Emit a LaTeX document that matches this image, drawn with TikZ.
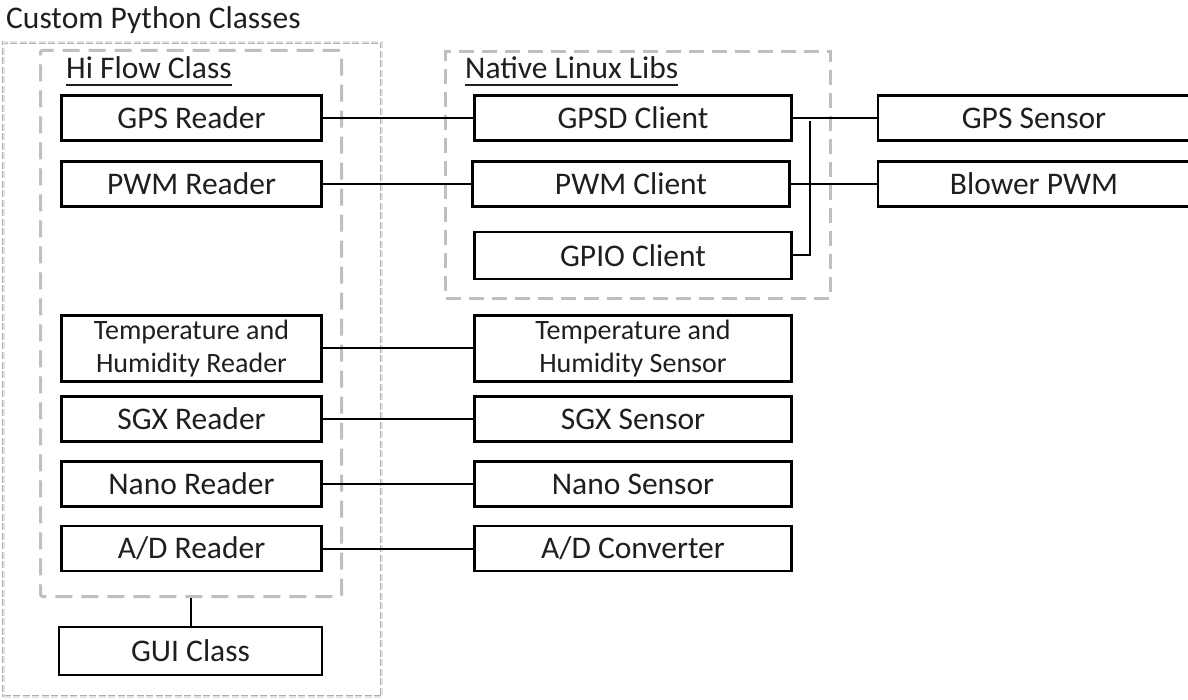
\documentclass[tikz,border=0pt]{standalone}
\usepackage{fontspec}
\setmainfont{Carlito}
\begin{document}
\begin{tikzpicture}[x=1pt,y=-1pt,
  lbl/.style={font=\fontsize{31.5}{38}\selectfont, text=black!88, inner sep=0pt},
  box/.style={lbl, draw=black, line width=2.6pt, fill=white, align=center},
  leftbox/.style={box, minimum width=260pt, minimum height=45pt},
  midbox/.style={box, minimum width=317pt, minimum height=45pt},
  farbox/.style={box, minimum width=312pt, minimum height=45pt},
  twoline/.style={font=\fontsize{28}{32.6}\selectfont, minimum height=66pt},
  wire/.style={draw=black, line width=2pt},
  groupbox/.style={draw=gray!50, line width=3pt, dash pattern=on 17pt off 9pt, rounded corners=2pt, inner sep=0pt},
  libbox/.style={draw=gray!50, line width=2.4pt, dash pattern=on 15pt off 8pt, inner sep=0pt},
  outerbox/.style={draw=gray!65, double=gray!22, line width=0.9pt, double distance=2pt, dash pattern=on 7pt off 2.5pt, inner sep=0pt}
]
\useasboundingbox (0,0) rectangle (1188,700);

% grouping frames
\node[outerbox, minimum width=378pt, minimum height=654pt] (custom) at (192.5,369.5) {};
\node[groupbox, minimum width=301pt, minimum height=546pt] (hiflow) at (191,323.5) {};
\node[libbox, minimum width=385pt, minimum height=247pt] (native) at (638,175) {};

% group titles
\node[lbl, anchor=base west] (customlbl) at (6,29) {Custom Python Classes};
\node[lbl, anchor=base west] (hilbl) at (66,79) {Hi Flow Class};
\node[lbl, anchor=base west] (nativelbl) at (465,79) {Native Linux Libs};
\draw[line width=1.8pt, black!88] ([yshift=-6pt]hilbl.base west) -- ([yshift=-6pt]hilbl.base east);
\draw[line width=1.8pt, black!88] ([yshift=-6pt]nativelbl.base west) -- ([yshift=-6pt]nativelbl.base east);

% reader classes
\node[leftbox] (gpsr)  at (191.5,118)   {GPS Reader};
\node[leftbox] (pwmr)  at (191.5,184)   {PWM Reader};
\node[leftbox, twoline] (thr) at (191.5,348.5) {Temperature and\\Humidity Reader};
\node[leftbox] (sgxr)  at (191.5,419)   {SGX Reader};
\node[leftbox] (nanor) at (191.5,484)   {Nano Reader};
\node[leftbox] (adr)   at (191.5,548.5) {A/D Reader};
\node[leftbox, minimum width=263pt, minimum height=48pt] (gui) at (190.5,651) {GUI Class};

% clients and sensors
\node[midbox] (gpsd)  at (633,118)   {GPSD Client};
\node[midbox] (pwmc)  at (631,184)   {PWM Client};
\node[midbox, minimum height=47pt] (gpio) at (633,255.5) {GPIO Client};
\node[midbox, twoline] (ths) at (633,348.5) {Temperature and\\Humidity Sensor};
\node[midbox] (sgxs)  at (633,419)   {SGX Sensor};
\node[midbox] (nanos) at (633,484)   {Nano Sensor};
\node[midbox] (adc)   at (633,548.5) {A/D Converter};

% hardware
\node[farbox] (gpss)   at (1034,118) {GPS Sensor};
\node[farbox] (blower) at (1034,184) {Blower PWM};

% connections
\draw[wire] (gpsr.east) -- (gpsd.west);
\draw[wire] (pwmr.east) -- (pwmc.west);
\draw[wire] (thr.east) -- (ths.west);
\draw[wire] (sgxr.east) -- (sgxs.west);
\draw[wire] (nanor.east) -- (nanos.west);
\draw[wire] (adr.east) -- (adc.west);
\draw[wire] (gpsd.east) -- (gpss.west);
\draw[wire] (pwmc.east) -- (blower.west);
\coordinate (gpiotop) at (810,121);
\draw[wire] (gpio.east) -| (gpiotop);
\draw[wire] (hiflow.south) -- (hiflow.south |- gui.north);
\end{tikzpicture}
\end{document}
